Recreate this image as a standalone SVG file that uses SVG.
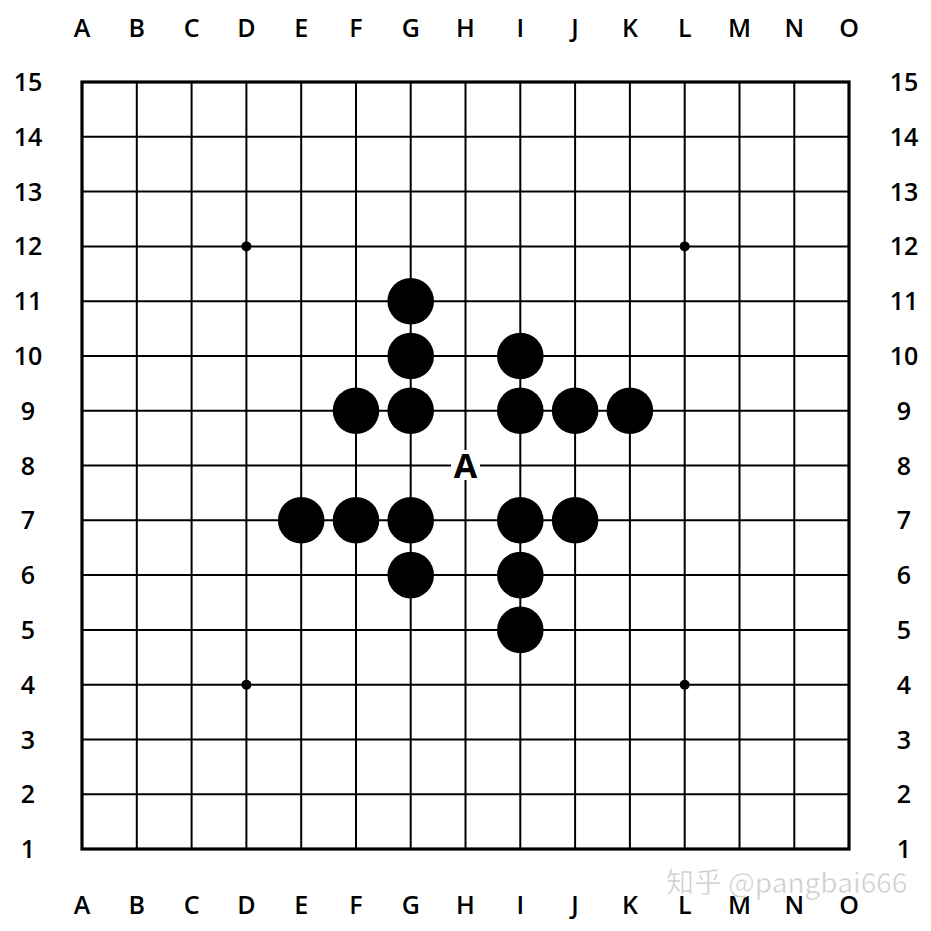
<svg xmlns="http://www.w3.org/2000/svg" width="931" height="931" viewBox="0 0 931 931">
<style>
.g{stroke:#000;stroke-width:2;fill:none}
.b{stroke:#000;stroke-width:3.2;fill:none}
.lbl{font-family:"Open Sans","Noto Sans",sans-serif;font-weight:600;font-size:25px;fill:#000;text-anchor:middle}
.s{fill:#000}
.wm{font-family:"Noto Sans CJK SC","Open Sans",sans-serif;font-size:28px;fill:#c9c9c9;stroke:#fff;stroke-width:0.6}
</style>
<rect width="931" height="931" fill="#fff"/>
<g id="grid">
<path class="g" d="M136.8 82V849M191.6 82V849M246.4 82V849M301.2 82V849M356 82V849M410.7 82V849M465.5 82V849M520.3 82V849M575.1 82V849M629.9 82V849M684.7 82V849M739.5 82V849M794.3 82V849"/>
<path class="g" d="M82 136.8H849M82 191.6H849M82 246.4H849M82 301.2H849M82 356H849M82 410.7H849M82 465.5H849M82 520.3H849M82 575.1H849M82 629.9H849M82 684.7H849M82 739.5H849M82 794.3H849"/>
<rect class="b" x="82" y="82" width="767" height="767"/>
</g>
<g id="stars">
<circle class="s" cx="246.4" cy="246.4" r="5"/>
<circle class="s" cx="684.7" cy="246.4" r="5"/>
<circle class="s" cx="246.4" cy="684.7" r="5"/>
<circle class="s" cx="684.7" cy="684.7" r="5"/>
</g>
<g id="labels-top" class="lbl">
<text x="82" y="37">A</text><text x="136.8" y="37">B</text><text x="191.6" y="37">C</text><text x="246.4" y="37">D</text><text x="301.2" y="37">E</text><text x="356" y="37">F</text><text x="410.7" y="37">G</text><text x="465.5" y="37">H</text><text x="520.3" y="37">I</text><text x="575.1" y="37">J</text><text x="629.9" y="37">K</text><text x="684.7" y="37">L</text><text x="739.5" y="37">M</text><text x="794.3" y="37">N</text><text x="849" y="37">O</text>
</g>
<g id="labels-bottom" class="lbl">
<text x="82" y="914">A</text><text x="136.8" y="914">B</text><text x="191.6" y="914">C</text><text x="246.4" y="914">D</text><text x="301.2" y="914">E</text><text x="356" y="914">F</text><text x="410.7" y="914">G</text><text x="465.5" y="914">H</text><text x="520.3" y="914">I</text><text x="575.1" y="914">J</text><text x="629.9" y="914">K</text><text x="684.7" y="914">L</text><text x="739.5" y="914">M</text><text x="794.3" y="914">N</text><text x="849" y="914">O</text>
</g>
<g id="labels-left" class="lbl">
<text x="28" y="91">15</text><text x="28" y="145.8">14</text><text x="28" y="200.6">13</text><text x="28" y="255.4">12</text><text x="28" y="310.2">11</text><text x="28" y="365">10</text><text x="28" y="419.7">9</text><text x="28" y="474.5">8</text><text x="28" y="529.3">7</text><text x="28" y="584.1">6</text><text x="28" y="638.9">5</text><text x="28" y="693.7">4</text><text x="28" y="748.5">3</text><text x="28" y="803.3">2</text><text x="28" y="858">1</text>
</g>
<g id="labels-right" class="lbl">
<text x="904" y="91">15</text><text x="904" y="145.8">14</text><text x="904" y="200.6">13</text><text x="904" y="255.4">12</text><text x="904" y="310.2">11</text><text x="904" y="365">10</text><text x="904" y="419.7">9</text><text x="904" y="474.5">8</text><text x="904" y="529.3">7</text><text x="904" y="584.1">6</text><text x="904" y="638.9">5</text><text x="904" y="693.7">4</text><text x="904" y="748.5">3</text><text x="904" y="803.3">2</text><text x="904" y="858">1</text>
</g>
<g id="stones">
<circle class="s" cx="410.7" cy="301.2" r="23.3"/>
<circle class="s" cx="410.7" cy="356" r="23.3"/>
<circle class="s" cx="520.3" cy="356" r="23.3"/>
<circle class="s" cx="356" cy="410.7" r="23.3"/>
<circle class="s" cx="410.7" cy="410.7" r="23.3"/>
<circle class="s" cx="520.3" cy="410.7" r="23.3"/>
<circle class="s" cx="575.1" cy="410.7" r="23.3"/>
<circle class="s" cx="629.9" cy="410.7" r="23.3"/>
<circle class="s" cx="301.2" cy="520.3" r="23.3"/>
<circle class="s" cx="356" cy="520.3" r="23.3"/>
<circle class="s" cx="410.7" cy="520.3" r="23.3"/>
<circle class="s" cx="520.3" cy="520.3" r="23.3"/>
<circle class="s" cx="575.1" cy="520.3" r="23.3"/>
<circle class="s" cx="410.7" cy="575.1" r="23.3"/>
<circle class="s" cx="520.3" cy="575.1" r="23.3"/>
<circle class="s" cx="520.3" cy="629.9" r="23.3"/>
</g>
<g id="mark-A">
<rect x="451" y="450" width="29" height="30" fill="#fff"/>
<text x="465.5" y="478" style="font-family:'Open Sans','Noto Sans',sans-serif;font-weight:700;font-size:34px;text-anchor:middle;fill:#000">A</text>
</g>
<text class="wm" x="666" y="893">知乎 @pangbai666</text>
</svg>
